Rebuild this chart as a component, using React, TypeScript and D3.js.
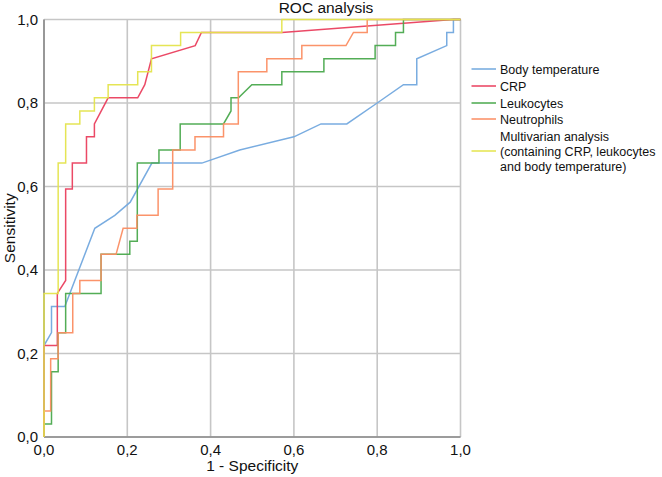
import React from "react";
import * as d3 from "d3";

const seriesNames = [
  "Body temperature",
  "CRP",
  "Leukocytes",
  "Neutrophils",
  "Multivarian analysis",
];

const bodyTemp: [number, number][] = [
  [0, 0], [0, 0.219], [0.018, 0.25], [0.018, 0.3125], [0.05, 0.3125], [0.122, 0.5],
  [0.17, 0.531], [0.207, 0.5625], [0.259, 0.656], [0.379, 0.656], [0.47, 0.6875],
  [0.6, 0.719], [0.665, 0.75], [0.727, 0.75], [0.8, 0.8], [0.863, 0.844],
  [0.895, 0.844], [0.895, 0.906], [0.967, 0.9375], [0.967, 0.969], [0.983, 0.969],
  [0.983, 1], [1, 1],
];

const crp: [number, number][] = [
  [0, 0], [0, 0.219], [0.032, 0.219], [0.032, 0.344], [0.052, 0.375], [0.052, 0.594],
  [0.068, 0.594], [0.068, 0.656], [0.102, 0.656], [0.102, 0.719], [0.121, 0.719],
  [0.121, 0.75], [0.154, 0.8125], [0.225, 0.8125], [0.242, 0.844], [0.258, 0.906],
  [0.363, 0.9375], [0.378, 0.969], [0.571, 0.969], [0.982, 1], [1, 1],
];

const leukocytes: [number, number][] = [
  [0, 0], [0, 0.031], [0.018, 0.031], [0.018, 0.156], [0.034, 0.156], [0.034, 0.25],
  [0.052, 0.25], [0.052, 0.344], [0.137, 0.344], [0.137, 0.4375], [0.206, 0.4375],
  [0.206, 0.469], [0.224, 0.469], [0.224, 0.656], [0.276, 0.656], [0.276, 0.6875],
  [0.327, 0.6875], [0.327, 0.75], [0.431, 0.75], [0.449, 0.781], [0.449, 0.8125],
  [0.467, 0.8125], [0.499, 0.844], [0.571, 0.844], [0.571, 0.875], [0.672, 0.875],
  [0.672, 0.906], [0.795, 0.906], [0.795, 0.9375], [0.844, 0.9375], [0.844, 0.969],
  [0.863, 0.969], [0.863, 1], [1, 1],
];

const neutrophils: [number, number][] = [
  [0, 0], [0, 0.0625], [0.016, 0.0625], [0.016, 0.1875], [0.034, 0.1875], [0.034, 0.25],
  [0.069, 0.25], [0.069, 0.344], [0.086, 0.344], [0.086, 0.375], [0.137, 0.375],
  [0.137, 0.4375], [0.173, 0.4375], [0.19, 0.5], [0.223, 0.5], [0.223, 0.531],
  [0.274, 0.531], [0.274, 0.594], [0.309, 0.594], [0.309, 0.6875], [0.3625, 0.6875],
  [0.3625, 0.719], [0.431, 0.719], [0.431, 0.75], [0.4665, 0.75], [0.4665, 0.875],
  [0.535, 0.875], [0.535, 0.906], [0.619, 0.906], [0.619, 0.9375], [0.725, 0.9375],
  [0.743, 0.969], [0.776, 0.969], [0.776, 1], [1, 1],
];

const multivariate: [number, number][] = [
  [0, 0], [0, 0.344], [0.034, 0.344], [0.034, 0.656], [0.052, 0.656], [0.052, 0.75],
  [0.086, 0.75], [0.086, 0.781], [0.121, 0.781], [0.121, 0.8125], [0.154, 0.8125],
  [0.154, 0.844], [0.225, 0.844], [0.225, 0.875], [0.258, 0.875], [0.258, 0.9375],
  [0.328, 0.9375], [0.328, 0.969], [0.571, 0.969], [0.571, 1], [1, 1],
];

const seriesData = [bodyTemp, crp, leukocytes, neutrophils, multivariate];
const seriesColors = ["#72a8de", "#ea3f5e", "#4aa94d", "#fb8d62", "#e4e44c"];
const legendLabels: string[][] = [
  ["Body temperature"],
  ["CRP"],
  ["Leukocytes"],
  ["Neutrophils"],
  ["Multivarian analysis", "(containing CRP, leukocytes", "and body temperature)"],
];
const tickValues = [0, 0.2, 0.4, 0.6, 0.8, 1.0];
const fmt = (v: number) => v.toFixed(1).replace(".", ",");

const W = 662;
const H = 477;
const left = 44;
const right = 460.5;
const top = 19.5;
const bottom = 437;
const font = "'Liberation Sans', Arial, sans-serif";

export default function App() {
  const x = d3.scaleLinear().domain([0, 1]).range([left, right]);
  const y = d3.scaleLinear().domain([0, 1]).range([bottom, top]);
  const line = d3
    .line<[number, number]>()
    .x((d) => x(d[0]))
    .y((d) => y(d[1]));

  const legendY = [69, 86, 103, 119, 136];
  return (
    <svg
      width={W}
      height={H}
      style={{ position: "absolute", left: 0, top: 0, background: "#fff" }}
      fontFamily={font}
    >
      <rect x={0} y={0} width={W} height={H} fill="#fff" />
      {tickValues.map((t) => (
        <g key={"g" + t}>
          <line x1={x(t)} x2={x(t)} y1={top} y2={bottom} stroke="#c6c6c6" strokeWidth={1.6} />
          <line x1={left} x2={right} y1={y(t)} y2={y(t)} stroke="#c6c6c6" strokeWidth={1.6} />
        </g>
      ))}
      <line x1={left} x2={left} y1={top} y2={bottom} stroke="#8a8a8a" strokeWidth={1.6} />
      <line x1={left} x2={right} y1={bottom} y2={bottom} stroke="#8a8a8a" strokeWidth={1.6} />
      {seriesData.map((s, i) => (
        <path
          key={seriesNames[i]}
          d={line(s) || ""}
          fill="none"
          stroke={seriesColors[i]}
          strokeWidth={1.5}
          strokeOpacity={0.95}
        />
      ))}
      {tickValues.map((t) => (
        <text key={"yl" + t} x={left - 6} y={y(t)} dy="0.36em" textAnchor="end" fontSize={15} fill="#111">
          {fmt(t)}
        </text>
      ))}
      {tickValues.map((t) => (
        <text key={"xl" + t} x={x(t)} y={bottom + 18} textAnchor="middle" fontSize={15} fill="#111">
          {fmt(t)}
        </text>
      ))}
      <text x={(left + right) / 2} y={471} textAnchor="middle" fontSize={15.5} fill="#111">
        1 - Specificity
      </text>
      <text
        transform={`translate(15,${(top + bottom) / 2}) rotate(-90)`}
        textAnchor="middle"
        fontSize={15.5}
        fill="#111"
      >
        Sensitivity
      </text>
      <text x={326} y={13} textAnchor="middle" fontSize={15.5} fill="#111">
        ROC analysis
      </text>
      {legendLabels.map((lines, i) => {
        const midIdx = (lines.length - 1) / 2;
        return (
          <g key={"leg" + i}>
            <line
              x1={471.5}
              x2={496}
              y1={legendY[i] + midIdx * 15}
              y2={legendY[i] + midIdx * 15}
              stroke={seriesColors[i]}
              strokeWidth={1.5}
            />
            {lines.map((l, j) => (
              <text key={j} x={500} y={legendY[i] + j * 15} dy="0.36em" fontSize={12.5} fill="#111">
                {l}
              </text>
            ))}
          </g>
        );
      })}
    </svg>
  );
}
